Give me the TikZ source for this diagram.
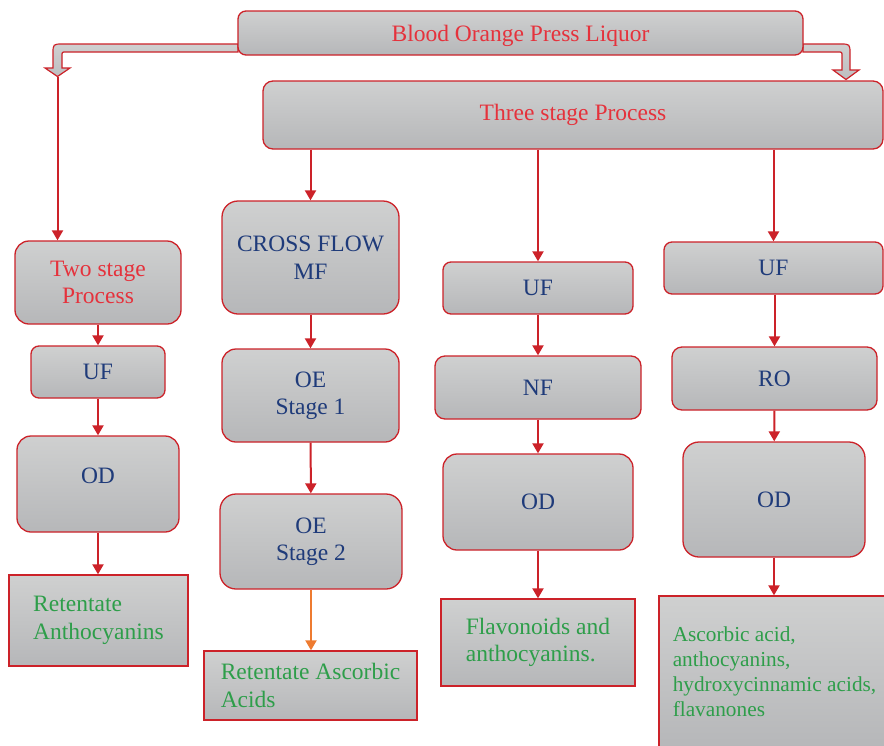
\documentclass[tikz,border=0pt]{standalone}
\usepackage{fontspec}
\setmainfont{Liberation Serif}
\usetikzlibrary{arrows.meta}

\definecolor{edgered}{HTML}{CC2229}
\definecolor{titlered}{HTML}{E5323C}
\definecolor{stepblue}{HTML}{1F3B7A}
\definecolor{yieldgreen}{HTML}{2E9E4A}
\definecolor{flowarrow}{HTML}{EE7B30}
\definecolor{shadetop}{HTML}{CFD0D0}
\definecolor{shadebot}{HTML}{B6B7B9}

\begin{document}
\begin{tikzpicture}[x=1pt,y=-1pt,
  box/.style={draw=edgered, line width=1.3pt, top color=shadetop, bottom color=shadebot,
              inner sep=0pt, align=center, font=\fontsize{23.5}{27.5}\selectfont},
  stage/.style={box, rounded corners=#1, text=stepblue},
  heading/.style={box, rounded corners=#1, text=titlered},
  yield/.style={box, align=left, text=yieldgreen},
  link/.style={draw=edgered, line width=2pt, -{Triangle[length=10pt,width=11pt]}},
  orangelink/.style={link, draw=flowarrow, -{Triangle[length=10pt,width=11pt,fill=flowarrow]}},
  blockarrow/.style={draw=edgered, line width=1.2pt, top color=shadetop, bottom color=shadebot!90!white}
]
\fill[white] (0,0) rectangle (884,745);
\useasboundingbox (0,0) rectangle (884,745);
\clip (0,0) rectangle (884,745);

% bent block arrows leaving the feed box
\draw[blockarrow] (238,44) -- (63,44) .. controls (53,44) .. (53,54) -- (53,68) -- (45,68)
  -- (57.5,76.5) -- (70,68) -- (62,68) -- (62,56) .. controls (62,52) .. (66,52) -- (238,52) -- cycle;
\draw[blockarrow] (803,44) -- (840,44) .. controls (850,44) .. (850,54) -- (850,70) -- (859,70)
  -- (846,79.5) -- (833,70) -- (842,70) -- (842,56) .. controls (842,52) .. (838,52) -- (803,52) -- cycle;
\coordinate (lefttip) at (57.5,76.5);

% feed and process headings
\node[heading=8pt, minimum width=565pt, minimum height=44pt, text height=22pt] (feed) at (520.5,33) {Blood Orange Press Liquor};
\node[heading=10pt, minimum width=620pt, minimum height=68pt] (three) at (573,115) {Three stage Process};

% two stage route
\node[heading=14pt, minimum width=166pt, minimum height=83pt] (two) at (98,282.5) {Two stage\\Process};
\node[stage=8pt, minimum width=134pt, minimum height=52pt] (uf1) at (98,372) {UF};
\node[stage=14pt, minimum width=162pt, minimum height=96pt, text depth=17pt] (od1) at (98,484) {OD};
\node[yield, minimum width=179pt, minimum height=91pt] (ret1) at (98.5,620.5) {Retentate\\Anthocyanins};

% cross flow route
\node[stage=16pt, minimum width=177pt, minimum height=113pt] (cf) at (310.5,257.5) {CROSS FLOW\\MF};
\node[stage=14pt, minimum width=177pt, minimum height=93pt] (oe1) at (310.5,395.5) {OE\\Stage 1};
\node[stage=16pt, minimum width=182pt, minimum height=95pt] (oe2) at (311,541.5) {OE\\Stage 2};
\node[yield, minimum width=213pt, minimum height=69pt] (ret2) at (310.5,685.5) {Retentate Ascorbic\\Acids};

% UF / NF route
\node[stage=8pt, minimum width=190pt, minimum height=52pt] (uf3) at (538,288) {UF};
\node[stage=10pt, minimum width=206pt, minimum height=63pt] (nf) at (538,387.5) {NF};
\node[stage=14pt, minimum width=190pt, minimum height=96pt] (od3) at (538,502) {OD};
\node[yield, minimum width=194pt, minimum height=87pt] (flav) at (538,642.5) {Flavonoids and\\anthocyanins.};

% UF / RO route
\node[stage=8pt, minimum width=219pt, minimum height=52pt] (uf4) at (773.5,268) {UF};
\node[stage=10pt, minimum width=205pt, minimum height=63pt] (ro) at (774.5,378.5) {RO};
\node[stage=16pt, minimum width=182pt, minimum height=115pt] (od4) at (774,499.5) {OD};
\node[yield, minimum width=231pt, minimum height=152pt, font=\fontsize{21.3}{25}\selectfont] (asc) at (774.5,672)
  {Ascorbic acid,\\anthocyanins,\\hydroxycinnamic acids,\\flavanones};

% connectors
\draw[link] (lefttip) -- (lefttip |- two.north);
\draw[link] (two) -- (uf1);
\draw[link] (uf1) -- (od1);
\draw[link] (od1) -- (od1 |- ret1.north);

\draw[link] (three.south -| cf.north) -- (cf);
\draw[link] (cf) -- (oe1);
\draw[link] (oe1) -- (oe2);
\draw[orangelink] (oe2) -- (oe2 |- ret2.north);

\draw[link] (three.south -| uf3.north) -- (uf3);
\draw[link] (uf3) -- (nf);
\draw[link] (nf) -- (od3);
\draw[link] (od3) -- (od3 |- flav.north);

\draw[link] (three.south -| uf4.north) -- (uf4);
\draw[link] (uf4.south -| ro.north) -- (ro);
\draw[link] (ro) -- (od4);
\draw[link] (od4) -- (od4 |- asc.north);
\end{tikzpicture}
\end{document}
